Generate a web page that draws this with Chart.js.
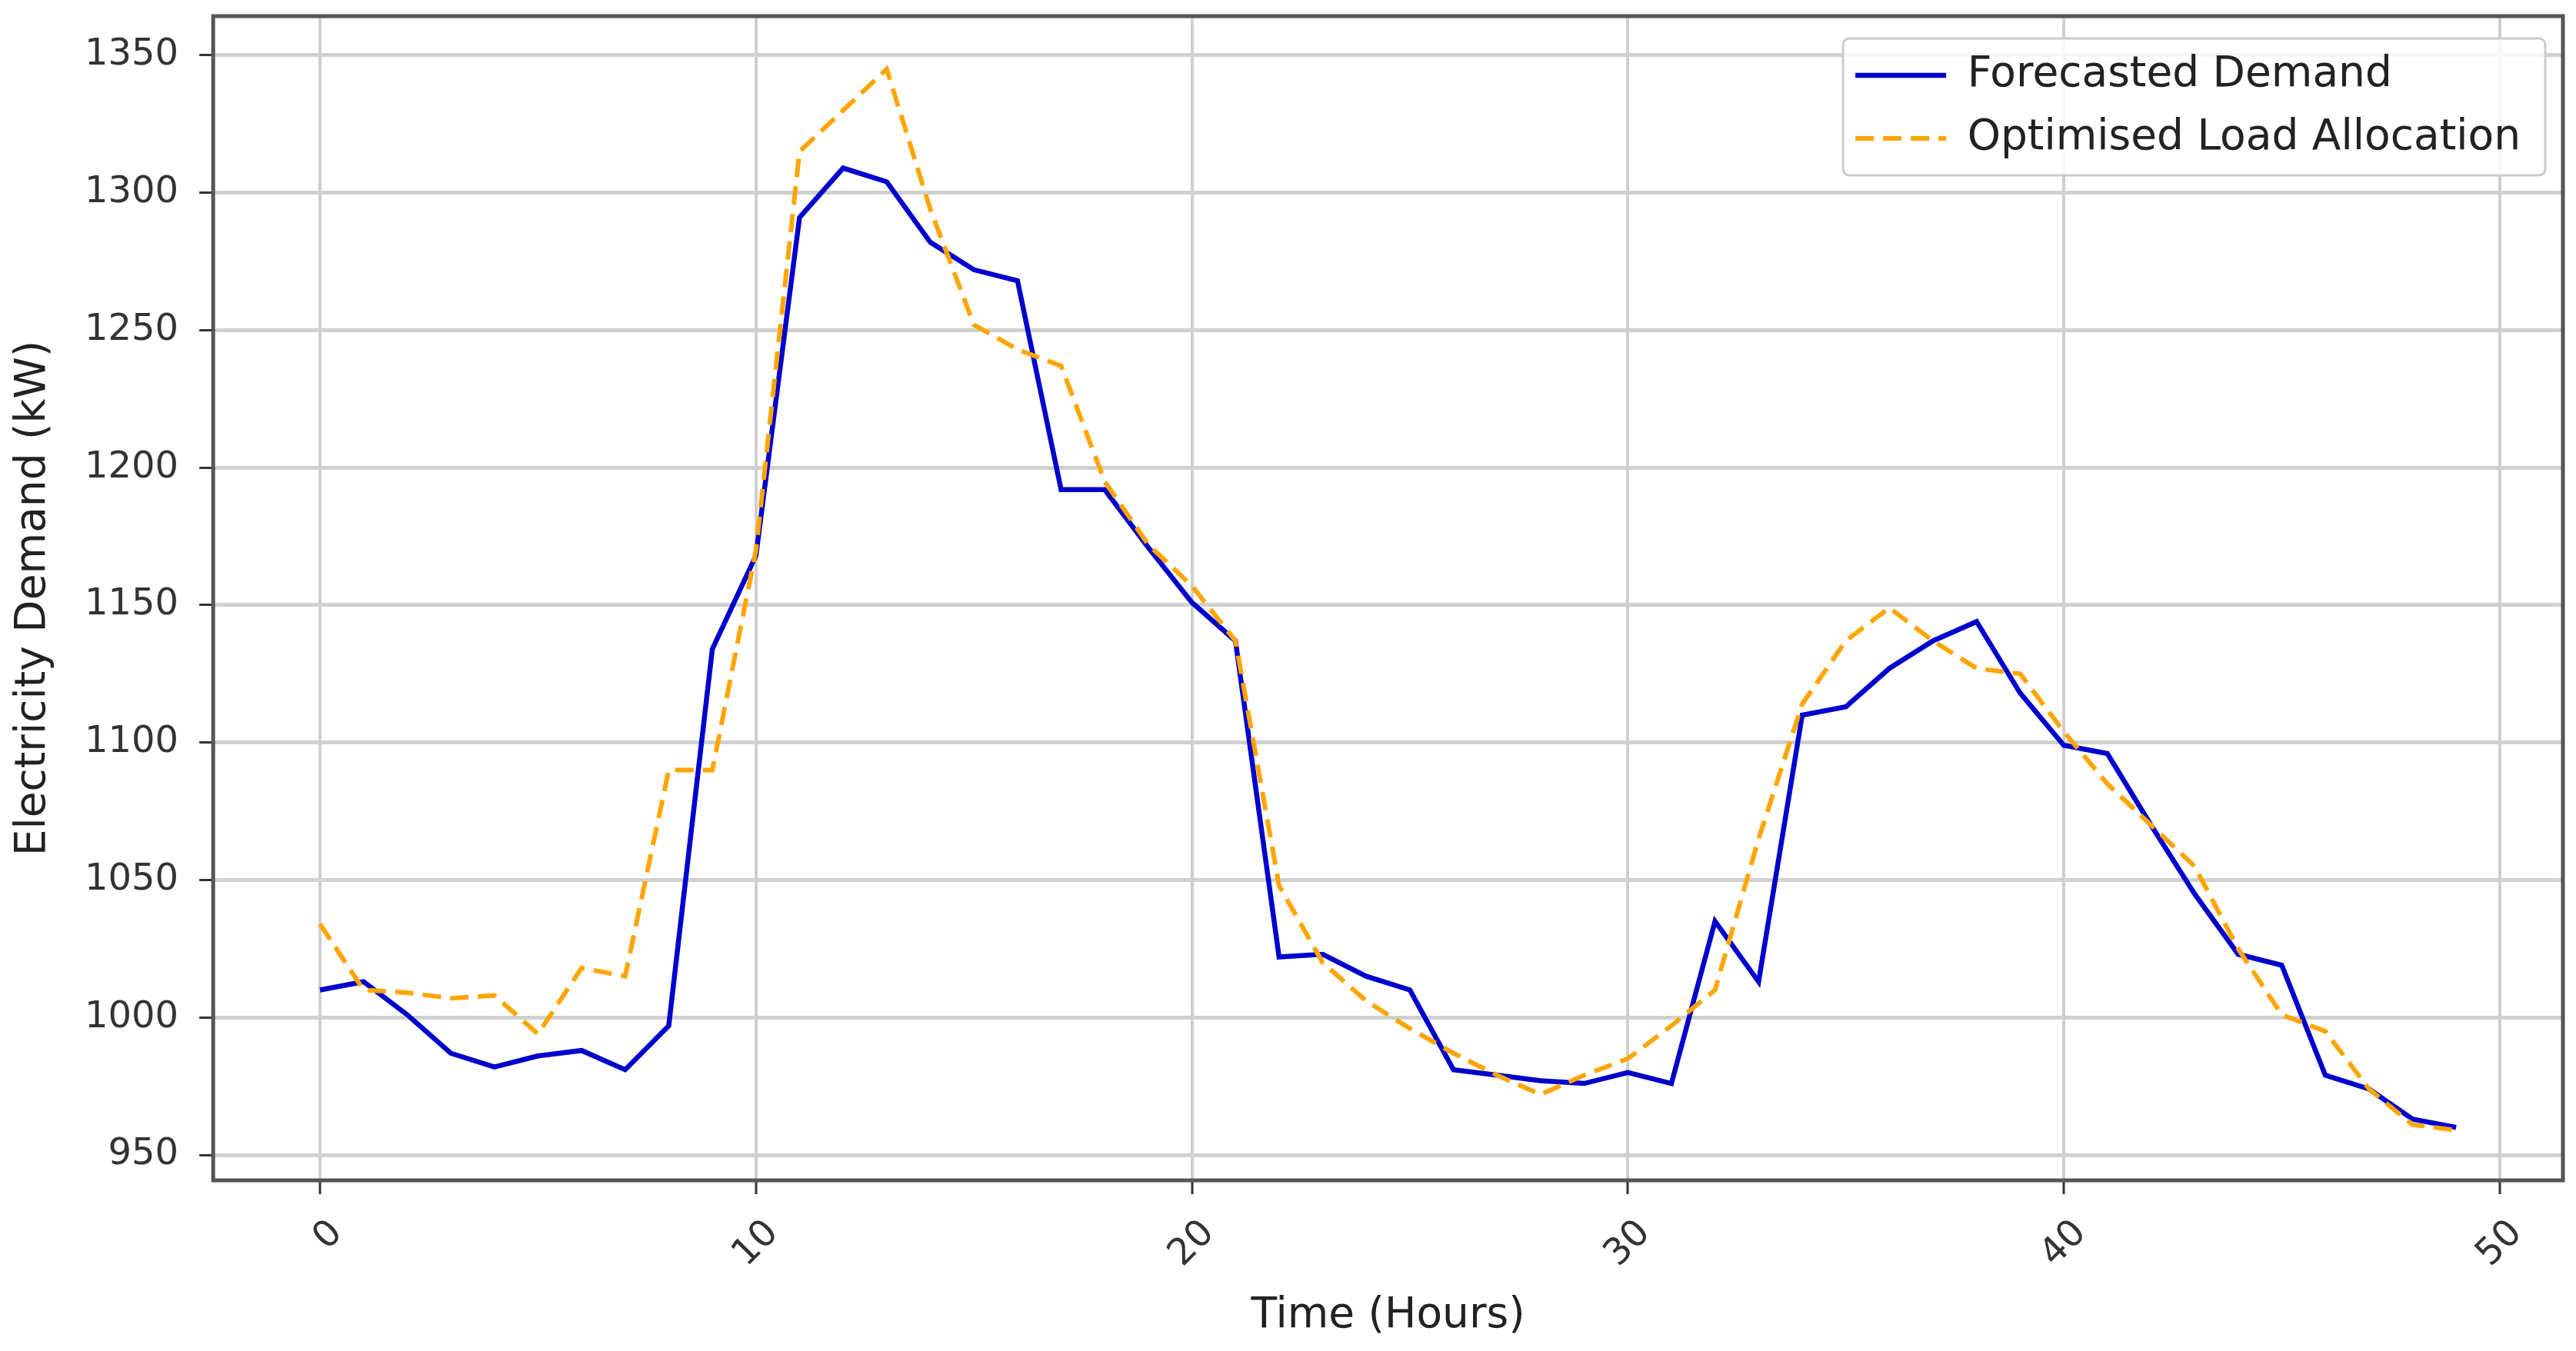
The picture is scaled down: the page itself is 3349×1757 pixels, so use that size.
<!DOCTYPE html>
<html>
<head>
<meta charset="utf-8">
<script src="https://cdn.jsdelivr.net/npm/chart.js@4.4.1/dist/chart.umd.min.js"></script>
<style>
  html, body { margin: 0; background: #fff; }
  #wrap { width: 3349px; height: 1757px; }
</style>
</head>
<body>
<div id="wrap"><canvas id="demandChart"></canvas></div>
<script>
// values
const hours = [0, 1, 2, 3, 4, 5, 6, 7, 8, 9, 10, 11, 12, 13, 14, 15, 16, 17, 18, 19,
  20, 21, 22, 23, 24, 25, 26, 27, 28, 29, 30, 31, 32, 33, 34, 35, 36, 37, 38, 39,
  40, 41, 42, 43, 44, 45, 46, 47, 48, 49];
const forecastDemand = [1010, 1013, 1001, 987, 982, 986, 988, 981, 997, 1134,
  1168, 1291, 1309, 1304, 1282, 1272, 1268, 1192, 1192, 1171,
  1151, 1137, 1022, 1023, 1015, 1010, 981, 979, 977, 976,
  980, 976, 1035, 1013, 1110, 1113, 1127, 1137, 1144, 1118,
  1099, 1096, 1070, 1045, 1023, 1019, 979, 974, 963, 960];
const optimisedLoad = [1034, 1010, 1009, 1007, 1008, 994, 1018, 1015, 1090, 1090,
  1170, 1315, 1330, 1345, 1294, 1252, 1243, 1237, 1195, 1172,
  1157, 1137, 1048, 1020, 1006, 996, 987, 979, 972, 979,
  985, 997, 1010, 1065, 1114, 1137, 1149, 1137, 1127, 1125,
  1104, 1085, 1070, 1055, 1025, 1001, 995, 974, 961, 959];
const seriesNames = ['Forecasted Demand', 'Optimised Load Allocation'];
const xTicks = [0, 10, 20, 30, 40, 50];
const yTicks = [950, 1000, 1050, 1100, 1150, 1200, 1250, 1300, 1350];

const FONT = 'DejaVu Sans';
const TICK_SIZE = 48;
const LABEL_SIZE = 55;

// legend sits inside the plot, top right, with a matplotlib-like frame
const FRAME_MARGIN = 48;
const legendInside = {
  id: 'legendInside',
  afterLayout(chart) {
    const lg = chart.legend, a = chart.chartArea;
    const o = lg.options.labels;
    lg.left = a.right - 23 - 32 - (lg.width - 10);
    lg.right = lg.left + lg.width;
    lg.top = a.top + 29 + FRAME_MARGIN - o.font.size / 2 - o.padding;
    lg.bottom = lg.top + lg.height;
  },
  afterDraw(chart) {
    const ctx = chart.ctx, a = chart.chartArea;
    // axes box
    ctx.save();
    ctx.strokeStyle = '#555';
    ctx.lineWidth = 5;
    ctx.strokeRect(a.left, a.top, a.right - a.left, a.bottom - a.top);
    // legend frame
    const lg = chart.legend;
    const o = lg.options.labels;
    const fs = o.font.size, pad = o.padding;
    const n = lg.legendItems.length;
    const c0 = lg.top + pad + fs / 2;
    const cN = c0 + (n - 1) * (fs + pad);
    const x0 = lg.left + pad - 16;
    const x1 = lg.left + lg.width - 10 + 32;
    ctx.beginPath();
    ctx.roundRect(x0, c0 - FRAME_MARGIN, x1 - x0, cN - c0 + 2 * FRAME_MARGIN, 8);
    ctx.fillStyle = 'rgba(255,255,255,0.85)';
    ctx.fill();
    ctx.strokeStyle = '#cccccc';
    ctx.lineWidth = 3;
    ctx.stroke();
    ctx.restore();
    lg.draw();
  }
};

new Chart(document.getElementById('demandChart'), {
  type: 'line',
  data: {
    datasets: [{
      label: seriesNames[0],
      data: hours.map((h, i) => ({x: h, y: forecastDemand[i]})),
      borderColor: '#0000cc',
      borderWidth: 6.5,
      pointRadius: 0,
      tension: 0,
      order: 1
    }, {
      label: seriesNames[1],
      data: hours.map((h, i) => ({x: h, y: optimisedLoad[i]})),
      borderColor: '#ffa500',
      borderWidth: 6,
      borderDash: [24, 12],
      pointRadius: 0,
      tension: 0,
      order: 0
    }]
  },
  options: {
    responsive: true,
    maintainAspectRatio: false,
    animation: false,
    events: [],
    layout: { padding: { left: 8, right: 17, top: 21, bottom: 8 } },
    scales: {
      x: {
        type: 'linear',
        min: -2.45,
        max: 51.45,
        afterBuildTicks: axis => { axis.ticks = xTicks.map(v => ({value: v})); },
        ticks: {
          callback: v => String(v),
          minRotation: 45,
          maxRotation: 45,
          labelOffset: 22,
          padding: 23,
          color: '#333',
          font: { family: FONT, size: TICK_SIZE }
        },
        grid: { color: '#cfcfcf', lineWidth: 4, tickColor: '#333', tickWidth: 3, tickLength: 18 },
        border: { display: false },
        title: {
          display: true,
          text: 'Time (Hours)',
          color: '#222',
          font: { family: FONT, size: LABEL_SIZE },
          padding: { top: -4, bottom: 4 }
        }
      },
      y: {
        min: 940.75,
        max: 1364.25,
        afterBuildTicks: axis => { axis.ticks = yTicks.map(v => ({value: v})); },
        afterFit: axis => { axis.paddingTop = 0; axis.paddingBottom = 0; },
        ticks: {
          callback: v => String(v),
          padding: 27,
          color: '#333',
          font: { family: FONT, size: TICK_SIZE }
        },
        grid: { color: '#d0d0d0', lineWidth: 5, tickColor: '#333', tickWidth: 3, tickLength: 18 },
        border: { display: false },
        title: {
          display: true,
          text: 'Electricity Demand (kW)',
          color: '#222',
          font: { family: FONT, size: LABEL_SIZE },
          padding: { top: 3, bottom: 6 }
        }
      }
    },
    plugins: {
      legend: {
        position: 'chartArea',
        align: 'start',
        labels: {
          usePointStyle: true,
          pointStyle: 'line',
          pointStyleWidth: 118,
          padding: 27,
          color: '#222',
          font: { family: FONT, size: LABEL_SIZE },
          sort: (a, b) => a.datasetIndex - b.datasetIndex,
          // line samples take the dataset's own stroke (width, dash)
          generateLabels: chart => {
            const items = Chart.defaults.plugins.legend.labels.generateLabels(chart);
            items.forEach(it => {
              const ds = chart.data.datasets[it.datasetIndex];
              it.strokeStyle = ds.borderColor;
              it.lineWidth = ds.borderWidth;
              it.lineDash = ds.borderDash || [];
            });
            return items;
          }
        }
      },
      tooltip: { enabled: false }
    }
  },
  plugins: [legendInside]
});
</script>
</body>
</html>
